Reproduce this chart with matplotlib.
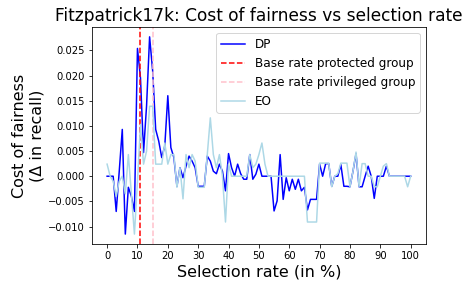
import numpy as np
import matplotlib
matplotlib.use("Agg")
import matplotlib.pyplot as plt

# selection rates in %
selection_rate = list(range(0, 101))

# cost of fairness (delta in recall), units of 1e-3
dp_cost = [
    0, 0, 0, -7, 1, 9.3, -11.5, -2.2, -4, -7,
    25.4, 19.5, 4.7, 14, 27.7, 21, 9.3, 7, 3.7, 6,
    16, 5.7, 3.7, -2, 1.7, -0.3, 2, 4, 3, 1.7,
    -2, -2, -2, 4, 3, 1, 0.5, 2.4, 1, -2.9,
    4.5, 1.7, 0, 2.4, 0.5, -0.6, -0.6, 4.3, -0.6, 0.4,
    2.4, 0, 0, 0, 0, -6.9, -4.9, 4.3, -4.6, -0.3,
    -2.9, -0.6, -2.6, -0.6, -2.9, -2.2, -6.7, -4.6, -4.6, -4.6,
    2.4, 0, 2.5, 2.5, -2, 0, 0, 2.3, -2, -2,
    -2.1, 1, 4.5, -2.1, -2.1, 0, 2, 0, -4.4, 0,
    0, 0, 2, 0, 0, 0, 0, 0, 0, 0,
    0,
]
eo_cost = [
    2.4, 0, -1, -4, -1, 0, -3.5, 4.3, -3.5, -11.5,
    -1, 10.3, 2.4, 5, 13.9, 13.9, 2.4, 2.4, 2.4, 6.6,
    2.4, 4.3, 4.3, -2.2, 1.7, -4.5, 4.3, 1.7, 4.3, 3,
    -2.2, -2.2, -2.2, 4.3, 11.6, 4.3, 1.7, 4.3, 0, -9.1,
    2.4, 0, 0, 0, 0, 0, 0, 4.3, 1.7, 2.4,
    4.3, 6.6, 2.4, 0, 0, 0, 0, 0, 0, 0,
    0, 0, 0, 0, 0, 0, -9.1, -9.1, -9.1, -9.1,
    2.6, 2.6, 2.6, 2.6, -2.1, 0, 0.5, 2.6, 2.6, 2.6,
    -2.1, 1, 4.8, -2.1, 2.5, 2.5, 0, 0, -2.1, -2.1,
    0, 2, 2.5, 0, 0, 0, 0, 0, 0, -2.1,
    0,
]
base_rate_protected = 10.8
base_rate_privileged = 15.1

dp = np.array(dp_cost) / 1000
eo = np.array(eo_cost) / 1000

fig = plt.figure(figsize=(469 / 72, 287 / 72), dpi=72)
ax = fig.add_subplot(111)
fig.subplots_adjust(left=0.196, right=0.908, top=0.906, bottom=0.150)

ax.plot(selection_rate, dp, color="blue", label="DP")
ax.axvline(base_rate_protected, color="red", linestyle="--", label="Base rate protected group")
ax.axvline(base_rate_privileged, color="pink", linestyle="--", label="Base rate privileged group")
ax.plot(selection_rate, eo, color="lightblue", label="EO")

ax.set_xticks(range(0, 101, 10))
ax.set_title("Fitzpatrick17k: Cost of fairness vs selection rate", fontsize=17)
ax.set_xlabel("Selection rate (in %)", fontsize=16)
ax.set_ylabel("Cost of fairness\n(Δ in recall)", fontsize=16)
ax.legend(loc="upper right", fontsize=12)

fig.savefig("out.png", dpi=72)
